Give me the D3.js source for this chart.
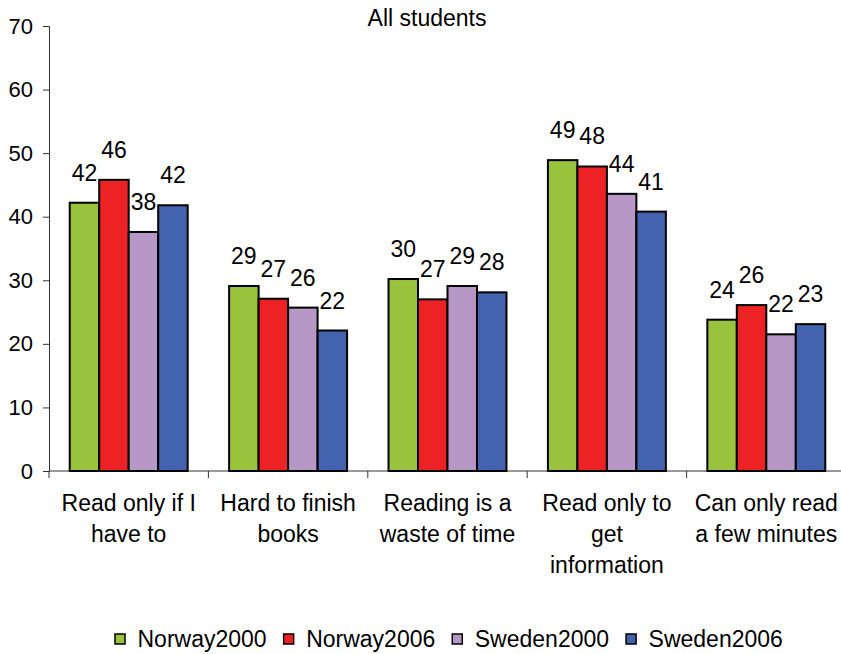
<!DOCTYPE html>
<html>
<head>
<meta charset="utf-8">
<script src="https://cdn.jsdelivr.net/npm/d3@7"></script>
<style>
  body { margin: 0; background: #fff; }
  svg { display: block; font-family: "Liberation Sans", Arial, sans-serif; }
</style>
</head>
<body>
<svg id="chart" width="841" height="654"></svg>
<script>
// categories (multi-line labels)
var categories = [
    ["Read only if I", "have to"],
    ["Hard to finish", "books"],
    ["Reading is a", "waste of time"],
    ["Read only to", "get", "information"],
    ["Can only read", "a few  minutes"]
];
var seriesNames = ["Norway2000", "Norway2006", "Sweden2000", "Sweden2006"];
var seriesColors = ["#99c33c", "#ed2224", "#b797c6", "#4363ae"];

var norway2000 = [42.2, 29.1, 30.2, 48.9, 23.8];
var norway2006 = [45.8, 27.1, 27.0, 47.9, 26.1];
var sweden2000 = [37.6, 25.7, 29.1, 43.6, 21.5];
var sweden2006 = [41.8, 22.1, 28.1, 40.8, 23.1];
var yTicks = [0, 10, 20, 30, 40, 50, 60, 70];

var allSeries = [norway2000, norway2006, sweden2000, sweden2006];

var svg = d3.select("#chart");
var margin = { left: 49, top: 26, bottom: 471, right: 846 };

// scales
var x0 = d3.scaleBand()
    .domain(d3.range(categories.length))
    .range([margin.left, margin.right])
    .padding(0);
var bw = x0.bandwidth();
var x1 = d3.scaleBand()
    .domain(d3.range(seriesNames.length))
    .range([bw * 0.13, bw * 0.87])
    .padding(0);
var y = d3.scaleLinear()
    .domain([0, 70])
    .range([margin.bottom, margin.top]);

// y axis
var yAxis = svg.append("g")
    .attr("transform", `translate(${margin.left},0)`)
    .call(d3.axisLeft(y).tickValues(yTicks).tickSize(6).tickPadding(10));
yAxis.selectAll("path, line").attr("stroke", "#333");
yAxis.selectAll("text")
    .attr("font-size", 22)
    .attr("font-family", "Liberation Sans, Arial, sans-serif")
    .attr("fill", "#000");

// x axis (ticks at category boundaries)
var xg = svg.append("g");
xg.append("line")
    .attr("x1", margin.left).attr("x2", margin.right)
    .attr("y1", y(0)).attr("y2", y(0))
    .attr("stroke", "#333");
xg.selectAll("line.tick")
    .data(d3.range(categories.length + 1))
    .join("line")
    .attr("class", "tick")
    .attr("x1", d => margin.left + d * bw)
    .attr("x2", d => margin.left + d * bw)
    .attr("y1", y(0)).attr("y2", y(0) + 7)
    .attr("stroke", "#333");

// category labels
var catLabels = svg.append("g")
    .selectAll("text")
    .data(categories)
    .join("text")
    .attr("text-anchor", "middle")
    .attr("font-size", 23)
    .attr("x", (d, i) => x0(i) + bw / 2)
    .attr("y", 511);
catLabels.selectAll("tspan")
    .data(d => d)
    .join("tspan")
    .attr("x", function() { return this.parentNode.getAttribute("x"); })
    .attr("dy", (d, i) => i == 0 ? 0 : 31)
    .text(d => d);

// bars
var groups = svg.append("g")
    .selectAll("g")
    .data(categories)
    .join("g")
    .attr("transform", (d, i) => `translate(${x0(i)},0)`);

groups.selectAll("rect")
    .data((d, i) => allSeries.map((s, k) => ({ k: k, v: s[i] })))
    .join("rect")
    .attr("x", d => x1(d.k))
    .attr("y", d => y(d.v))
    .attr("width", x1.bandwidth())
    .attr("height", d => y(0) - y(d.v))
    .attr("fill", d => seriesColors[d.k])
    .attr("stroke", "#000")
    .attr("stroke-width", 2);

groups.selectAll("text")
    .data((d, i) => allSeries.map((s, k) => ({ k: k, v: s[i] })))
    .join("text")
    .attr("x", d => x1(d.k) + x1.bandwidth() / 2)
    .attr("y", d => y(d.v) - 22)
    .attr("text-anchor", "middle")
    .attr("font-size", 23)
    .text(d => Math.round(d.v));

// title
svg.append("text")
    .attr("x", 427)
    .attr("y", 26)
    .attr("text-anchor", "middle")
    .attr("font-size", 23)
    .text("All students");

// legend
var legend = svg.append("g");
var lx = 115;
seriesNames.forEach((name, k) => {
    legend.append("rect")
        .attr("x", lx).attr("y", 634)
        .attr("width", 10).attr("height", 10)
        .attr("fill", seriesColors[k])
        .attr("stroke", "#000")
        .attr("stroke-width", 1.5);
    var t = legend.append("text")
        .attr("x", lx + 22.5)
        .attr("y", 646.5)
        .attr("font-size", 23)
        .text(name);
    lx += 22.5 + t.node().getComputedTextLength() + 17;
});
</script>
</body>
</html>
